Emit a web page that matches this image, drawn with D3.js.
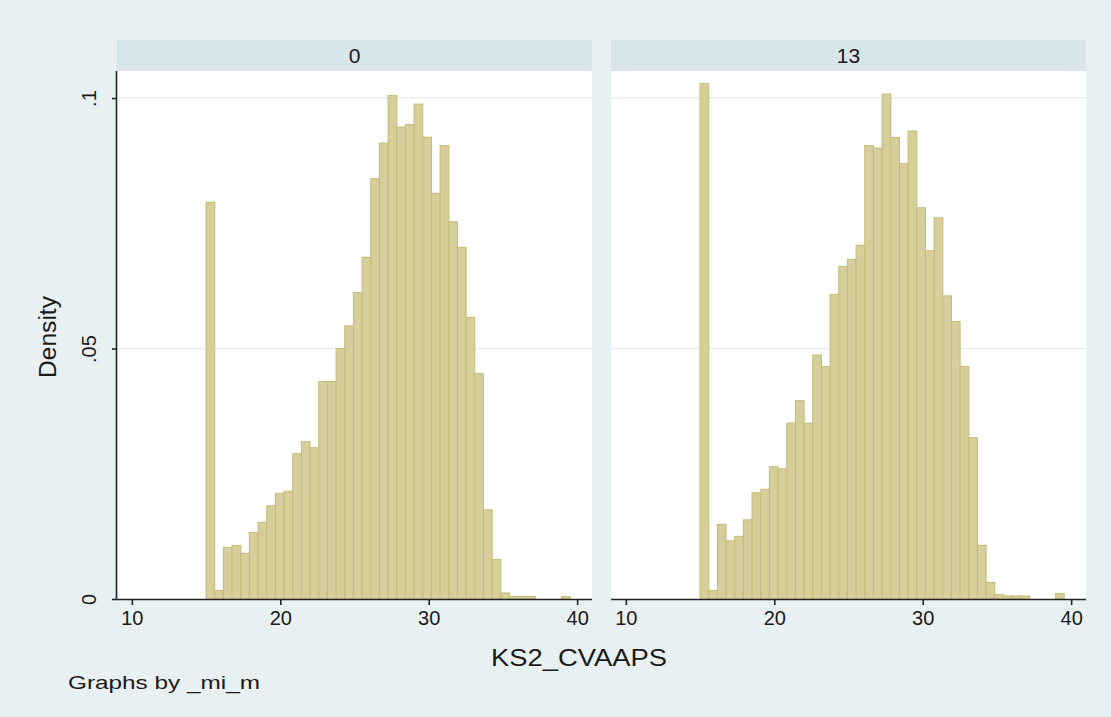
<!DOCTYPE html>
<html>
<head>
<meta charset="utf-8">
<script src="https://cdn.jsdelivr.net/npm/d3@7"></script>
<style>
  html, body { margin: 0; padding: 0; background: #e9f0f2; }
  svg { display: block; }
  text { font-family: "Liberation Sans", Arial, sans-serif; fill: #1a1a1a; }
</style>
</head>
<body>
<svg id="chart" width="1111" height="717"></svg>
<script>
// Histogram of KS2_CVAAPS by imputation (_mi_m), density scale
const panels = ["0", "13"];
const binStart = 15;
const binWidth = 0.584;
const density0 = [
  0.0792, 0.0017, 0.0103, 0.0107, 0.0091, 0.0133, 0.0153, 0.0186, 0.0211, 0.0215,
  0.0290, 0.0314, 0.0302, 0.0434, 0.0434, 0.0500, 0.0545, 0.0612, 0.0682, 0.0839,
  0.0910, 0.1005, 0.0942, 0.0947, 0.0988, 0.0922, 0.0810, 0.0905, 0.0753, 0.0702,
  0.0562, 0.0450, 0.0178, 0.0079, 0.0012, 0.0005, 0.0005, 0.0005, 0, 0,
  0, 0.0005
];
const density13 = [
  0.1029, 0.0017, 0.0149, 0.0116, 0.0125, 0.0158, 0.0212, 0.0219, 0.0264, 0.0260,
  0.0351, 0.0396, 0.0351, 0.0487, 0.0464, 0.0608, 0.0664, 0.0678, 0.0706, 0.0905,
  0.0900, 0.1008, 0.0921, 0.0869, 0.0934, 0.0781, 0.0695, 0.0761, 0.0605, 0.0554,
  0.0464, 0.0322, 0.0107, 0.0033, 0.0009, 0.0006, 0.0006, 0.0006, 0, 0,
  0, 0.0011
];
const xTicks = [10, 20, 30, 40];
const yTicks = [0, 0.05, 0.1];
const yTickLabels = ["0", ".05", ".1"];
const xTitle = "KS2_CVAAPS";
const yTitle = "Density";
const note = "Graphs by _mi_m";

const seriesByPanel = [density0, density13];

const svg = d3.select("#chart");
svg.append("rect").attr("width", 1111).attr("height", 717).attr("fill", "#e9f0f2");

const plotTop = 71, plotBottom = 599;
const stripTop = 40;
const panelX = [[117, 592], [611, 1086]];

const y = d3.scaleLinear().domain([0, 0.1054]).range([plotBottom, plotTop]);

panels.forEach((label, i) => {
  const [x0, x1] = panelX[i];
  const x = d3.scaleLinear().domain([9, 41]).range([x0, x1]);
  const g = svg.append("g");

  // panel header strip
  g.append("rect")
    .attr("x", x0).attr("y", stripTop)
    .attr("width", x1 - x0).attr("height", plotTop - stripTop)
    .attr("fill", "#d8e5eb");
  g.append("text")
    .attr("x", (x0 + x1) / 2).attr("y", plotTop - 8)
    .attr("text-anchor", "middle")
    .attr("font-size", 21)
    .text(label);

  // plot region
  g.append("rect")
    .attr("x", x0).attr("y", plotTop)
    .attr("width", x1 - x0).attr("height", plotBottom - plotTop)
    .attr("fill", "#ffffff");

  // horizontal grid lines
  g.selectAll("line.grid")
    .data(yTicks.filter(d => d > 0))
    .join("line")
    .attr("class", "grid")
    .attr("x1", x0).attr("x2", x1)
    .attr("y1", d => y(d)).attr("y2", d => y(d))
    .attr("stroke", "#e6eef1").attr("stroke-width", 1.5);

  // histogram bars
  const bins = seriesByPanel[i].map((v, k) => ({
    lo: binStart + k * binWidth,
    hi: binStart + (k + 1) * binWidth,
    v
  })).filter(d => d.v > 0);
  g.selectAll("rect.bar")
    .data(bins)
    .join("rect")
    .attr("class", "bar")
    .attr("x", d => x(d.lo))
    .attr("width", d => x(d.hi) - x(d.lo))
    .attr("y", d => y(d.v))
    .attr("height", d => y(0) - y(d.v))
    .attr("fill", "#d6cf9b")
    .attr("stroke", "#c7bd7c")
    .attr("stroke-width", 1.1);

  // x axis
  const xAxis = g.append("g")
    .attr("transform", `translate(0,${plotBottom})`)
    .call(d3.axisBottom(x).tickValues(xTicks).tickSize(6).tickPadding(6).tickFormat(d3.format("d")));
  xAxis.select(".domain").attr("d", `M${x0},0.5H${x1}`).attr("stroke", "#222").attr("stroke-width", 1.6);
  xAxis.selectAll(".tick line").attr("stroke", "#222").attr("stroke-width", 1.6);
  xAxis.selectAll(".tick text").attr("font-size", 20).attr("fill", "#1a1a1a")
    .attr("font-family", "Liberation Sans, Arial, sans-serif");

  // y axis on the first panel only
  if (i === 0) {
    const yAxis = g.append("g")
      .attr("transform", `translate(${x0},0)`)
      .call(d3.axisLeft(y).tickValues(yTicks).tickSize(5).tickPadding(0)
        .tickFormat((d, k) => yTickLabels[k]));
    yAxis.select(".domain").attr("d", `M-0.5,${plotTop}V${plotBottom}`)
      .attr("stroke", "#222").attr("stroke-width", 1.6);
    yAxis.selectAll(".tick line").attr("stroke", "#222").attr("stroke-width", 1.6);
    yAxis.selectAll(".tick text")
      .attr("font-size", 20).attr("fill", "#1a1a1a")
      .attr("font-family", "Liberation Sans, Arial, sans-serif")
      .attr("text-anchor", "middle")
      .attr("x", null).attr("dy", null)
      .attr("transform", "translate(-21,0) rotate(-90)");
  }
});

// axis titles and note
svg.append("text")
  .attr("transform", `translate(56,${(plotTop + plotBottom) / 2 + 2}) rotate(-90)`)
  .attr("text-anchor", "middle")
  .attr("font-size", 23)
  .attr("textLength", 82)
  .attr("lengthAdjust", "spacingAndGlyphs")
  .text(yTitle);

svg.append("text")
  .attr("x", 579).attr("y", 666)
  .attr("text-anchor", "middle")
  .attr("font-size", 23)
  .attr("textLength", 176)
  .attr("lengthAdjust", "spacingAndGlyphs")
  .text(xTitle);

svg.append("text")
  .attr("x", 68).attr("y", 689)
  .attr("font-size", 19)
  .attr("textLength", 192)
  .attr("lengthAdjust", "spacingAndGlyphs")
  .text(note);
</script>
</body>
</html>
